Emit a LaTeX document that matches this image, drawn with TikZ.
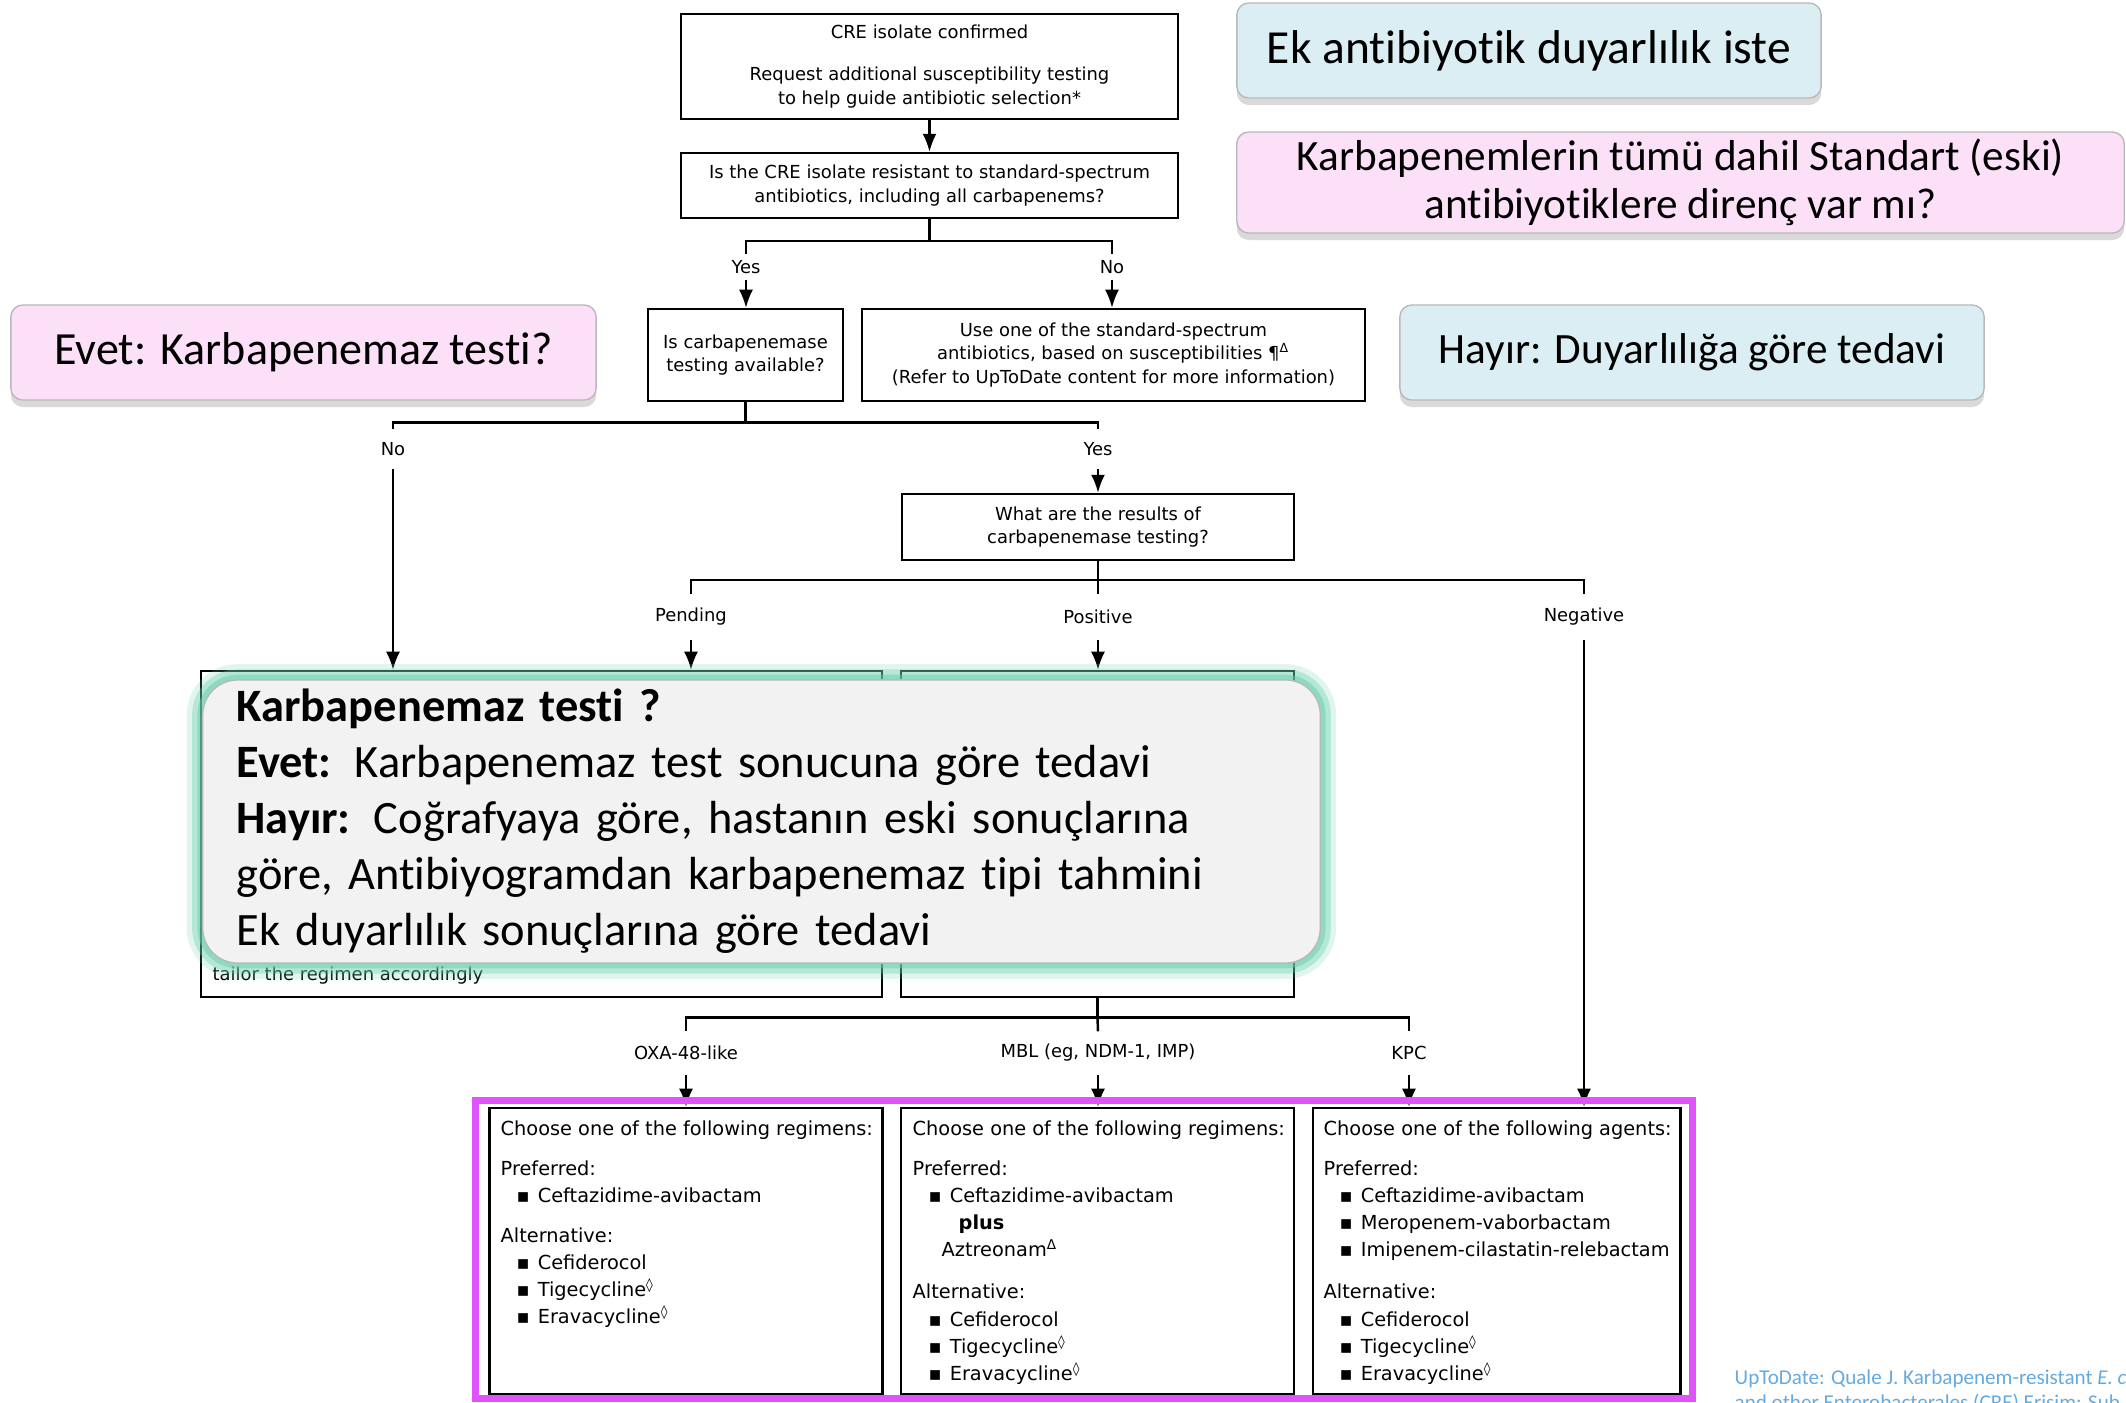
\documentclass[tikz,border=0pt]{standalone}
\usepackage{fontspec}
\setmainfont{DejaVu Sans}
\newfontfamily\calib[Ligatures=NoCommon]{Carlito}
\usetikzlibrary{arrows.meta,shadows}

\definecolor{cyanbox}{RGB}{218,238,243}
\definecolor{pinkbox}{RGB}{252,224,248}
\definecolor{greybox}{RGB}{242,242,242}
\definecolor{glowgreen}{RGB}{100,205,168}
\definecolor{framemag}{RGB}{222,84,250}
\definecolor{notecol}{RGB}{100,170,225}
\definecolor{rimgrey}{RGB}{185,185,185}

\newcommand{\fc}{\fontsize{5.1}{6.6}\selectfont}
\newcommand{\fl}{\fontsize{5.5}{7.7}\selectfont}
\newcommand{\itm}{\hspace*{1.6mm}▪\hspace{0.8mm}}
\newcommand{\dmd}{\textsuperscript{◊}}

\begin{document}
\begin{tikzpicture}[x=0.01cm, y=-0.01cm]
		\tikzset{box/.style = {draw, line width=0.7pt, align=center, font=\fc, inner sep=0pt}}
		\tikzset{lab/.style = {font=\fc, inner sep=0pt}}
		\tikzset{edge/.style = {-{Latex[length=1.8mm,width=1.4mm]}, line width=0.6pt}}
		\tikzset{line/.style = {line width=0.7pt}}
		\tikzset{list/.style = {font=\fl, align=left, inner sep=0pt, anchor=north west}}
		\tikzset{note/.style = {draw=rimgrey, line width=0.4pt, rounded corners=1.2mm, align=center, inner sep=0pt,
				drop shadow={shadow xshift=0pt, shadow yshift=-0.7mm, opacity=0.3}}}
		\tikzset{glowbox/.style = {draw=rimgrey, line width=0.4pt, fill=greybox, rounded corners=3.5mm, align=left,
				inner xsep=0.34cm, inner ysep=0pt, font=\calib\fontsize{13.2}{15.9}\selectfont,
				preaction={draw=glowgreen, line width=9pt, opacity=0.2},
				preaction={draw=glowgreen, line width=6pt, opacity=0.35},
				preaction={draw=glowgreen, line width=3pt, opacity=0.5}}}
		
		\useasboundingbox (0,0) rectangle (2126,1402);
		
		\node[box, minimum width=4.97cm, minimum height=1.05cm] (1) at ( 929.5,  66.5) {CRE isolate confirmed\\[1.9mm] Request additional susceptibility testing\\ to help guide antibiotic selection*};
		\node[box, minimum width=4.97cm, minimum height=0.65cm] (2) at ( 929.5, 185.5) {Is the CRE isolate resistant to standard-spectrum\\ antibiotics, including all carbapenems?};
		\node[lab, minimum height=0.24cm] (y1) at ( 746, 267) {Yes};
		\node[lab, minimum height=0.24cm] (n1) at (1112, 267) {No};
		\node[box, minimum width=1.95cm, minimum height=0.92cm] (3) at ( 745.5, 355) {Is carbapenemase\\ testing available?};
		\node[box, minimum width=5.03cm, minimum height=0.92cm] (4) at (1113.5, 355) {Use one of the standard-spectrum\\ antibiotics, based on susceptibilities ¶\textsuperscript{Δ}\\ (Refer to UpToDate content for more information)};
		\node[lab, minimum height=0.38cm] (n2) at ( 393, 449) {No};
		\node[lab, minimum height=0.38cm] (y2) at (1098, 449) {Yes};
		\node[box, minimum width=3.92cm, minimum height=0.66cm] (5) at (1098, 527) {What are the results of\\ carbapenemase testing?};
		\node[lab, minimum height=0.44cm] (pend) at ( 691, 617) {Pending};
		\node[lab, minimum height=0.44cm] (pos)  at (1098, 617) {Positive};
		\node[lab, minimum height=0.44cm] (neg)  at (1584, 617) {Negative};
		\node[box, minimum width=6.81cm, minimum height=3.26cm] (6) at ( 541.5, 834) {};
		\node[box, minimum width=3.93cm, minimum height=3.26cm] (7) at (1097.5, 834) {};
		\node[lab, anchor=west] (6t) at (212, 976) {tailor the regimen accordingly};
		\node[lab, minimum height=0.42cm] (oxa) at ( 686, 1053) {OXA-48-like};
		\node[lab, minimum height=0.42cm] (mbl) at (1098, 1053) {MBL (eg, NDM-1, IMP)};
		\node[lab, minimum height=0.42cm] (kpc) at (1409, 1053) {KPC};
		\node[box, minimum width=3.93cm,  minimum height=2.86cm] (8)  at ( 686,    1251) {};
		\node[box, minimum width=3.93cm,  minimum height=2.86cm] (9)  at (1097.5,  1251) {};
		\node[box, minimum width=3.675cm, minimum height=2.86cm] (10) at (1496.75, 1251) {};
		
		\node[list] (8t) at ( 500, 1120) {Choose one of the following regimens:\\[3.7pt]
			Preferred:\\ \itm Ceftazidime-avibactam\\[3.7pt]
			Alternative:\\ \itm Cefiderocol\\ \itm Tigecycline\dmd\\ \itm Eravacycline\dmd};
		\node[list] (9t) at ( 912, 1120) {Choose one of the following regimens:\\[3.7pt]
			Preferred:\\ \itm Ceftazidime-avibactam\\ \hspace*{4.6mm}\textbf{plus}\\ \hspace*{2.9mm}Aztreonam\textsuperscript{Δ}\\[4.3pt]
			Alternative:\\ \itm Cefiderocol\\ \itm Tigecycline\dmd\\ \itm Eravacycline\dmd};
		\node[list] (10t) at (1323, 1120) {Choose one of the following agents:\\[3.7pt]
			Preferred:\\ \itm Ceftazidime-avibactam\\ \itm Meropenem-vaborbactam\\ \itm Imipenem-cilastatin-relebactam\\[4.3pt]
			Alternative:\\ \itm Cefiderocol\\ \itm Tigecycline\dmd\\ \itm Eravacycline\dmd};
		
		\draw[edge] (1) -- (2);
		\draw[line] (2.south) -- ++(0,22) coordinate (s1);
		\draw[line] (s1) -| (y1.north);
		\draw[line] (s1) -| (n1.north);
		\draw[edge] (y1) -- (y1 |- 3.north);
		\draw[edge] (n1) -- (n1 |- 4.north);
		\draw[line] (3.south) -- ++(0,20) coordinate (s2);
		\draw[line] (s2) -| (n2.north);
		\draw[line] (s2) -| (y2.north);
		\draw[edge] (n2) -- (n2 |- 6.north);
		\draw[edge] (y2) -- (y2 |- 5.north);
		\draw[line] (5.south) -- ++(0,19) coordinate (s3);
		\draw[line] (s3) -| (pend.north);
		\draw[line] (s3) -| (neg.north);
		\draw[line] (s3) -- (pos.north);
		\draw[edge] (pend) -- (pend |- 6.north);
		\draw[edge] (pos) -- (pos |- 7.north);
		\draw[edge] (neg) -- (neg |- 10.north);
		\draw[line] (7.south) -- ++(0,19) coordinate (s4);
		\draw[line] (s4) -| (oxa.north);
		\draw[line] (s4) -| (kpc.north);
		\draw[line] (s4) -- (mbl.north);
		\draw[edge] (oxa) -- (oxa |- 8.north);
		\draw[edge] (mbl) -- (mbl |- 9.north);
		\draw[edge] (kpc) -- (kpc |- 10.north);
		
		\draw[framemag, line width=0.07cm] (475.5,1100) rectangle (1692,1398);
		
		\node[note, fill=cyanbox, minimum width=5.84cm, minimum height=0.95cm, font=\calib\fontsize{13.5}{13.6}\selectfont] (ek)    at (1529,   50.5) {Ek antibiyotik duyarlılık iste};
		\node[note, fill=pinkbox, minimum width=8.87cm, minimum height=1.01cm, font=\calib\fontsize{12.3}{13.6}\selectfont] (kar)   at (1680.5, 182.5) {Karbapenemlerin tümü dahil Standart (eski)\\ antibiyotiklere direnç var mı?};
		\node[note, fill=pinkbox, minimum width=5.85cm, minimum height=0.95cm, font=\calib\fontsize{13.1}{13.6}\selectfont] (evet)  at ( 303.5, 352.5) {Evet: Karbapenemaz testi?};
		\node[note, fill=cyanbox, minimum width=5.84cm, minimum height=0.95cm, font=\calib\fontsize{12.3}{13.6}\selectfont] (hayir) at (1692,   352.5) {Hayır: Duyarlılığa göre tedavi};
		\node[glowbox, minimum width=11.17cm, minimum height=2.83cm, text width=10.49cm] (kt) at (761.5, 821.5) {\textbf{Karbapenemaz testi ?}\\
			\textbf{Evet:} Karbapenemaz test sonucuna göre tedavi\\
			\textbf{Hayır:} Coğrafyaya göre, hastanın eski sonuçlarına\\
			göre, Antibiyogramdan karbapenemaz tipi tahmini\\
			Ek duyarlılık sonuçlarına göre tedavi};
		
		\node[anchor=north west, inner sep=0pt, align=left, text=notecol, font=\calib\fontsize{6}{7.1}\selectfont] (src) at (1734, 1369) {UpToDate: Quale J. Karbapenem-resistant \textit{E. c}\\ and other Enterobacterales (CRE) Erişim: Şub};
		\end{tikzpicture}
\end{document}
